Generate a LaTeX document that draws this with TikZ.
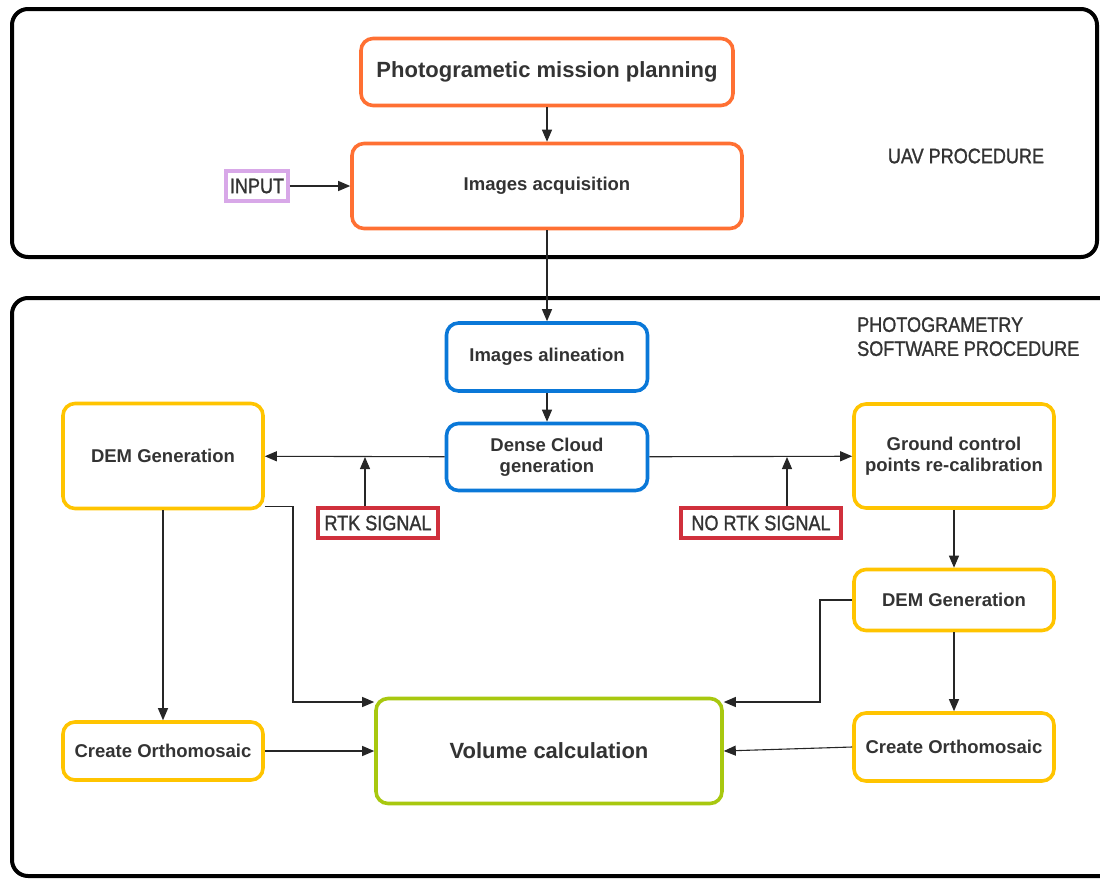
\documentclass[tikz,border=0pt]{standalone}
\usepackage{fontspec}
\setmainfont{Liberation Sans}
\newfontfamily\capsfont[FakeStretch=0.86,FakeBold=1.2]{Liberation Sans}
\usetikzlibrary{arrows.meta}
\definecolor{txt}{HTML}{333333}
\definecolor{orangeC}{HTML}{FF7033}
\definecolor{blueC}{HTML}{0A78D8}
\definecolor{yellowC}{HTML}{FFC400}
\definecolor{greenC}{HTML}{A8C80F}
\definecolor{redC}{HTML}{D0303C}
\definecolor{purpleC}{HTML}{D8A8E8}
\begin{document}
\begin{tikzpicture}[x=1pt,y=-1pt,
  box/.style={draw, rounded corners=12pt, line width=3.6pt, fill=white, align=center,
    text=txt, inner sep=2pt, font=\bfseries\fontsize{18.5}{21}\selectfont},
  bigtext/.style={font=\bfseries\fontsize{22}{25}\selectfont},
  orangebox/.style={box, draw=orangeC},
  bluebox/.style={box, draw=blueC},
  yellowbox/.style={box, draw=yellowC},
  greenbox/.style={box, draw=greenC},
  tagbox/.style={draw, line width=3.4pt, fill=white, text=txt, inner sep=1pt,
    font=\capsfont\fontsize{21}{24}\selectfont},
  capslabel/.style={text=txt, inner sep=0pt, align=left,
    font=\capsfont\fontsize{21}{24}\selectfont},
  container/.style={draw=black, line width=4pt, rounded corners=16pt},
  arr/.style={-{Triangle[length=12pt,width=10pt]}, line width=1.1pt, draw=black!85}
]
\useasboundingbox (0,0) rectangle (1100,878);
\clip (0,0) rectangle (1100,878);

% containers
\draw[container] (12,9) rectangle (1097,257);
\draw[container] (12,298) rectangle (1120,876);

% UAV part
\node[orangebox, bigtext, minimum width=372pt, minimum height=67pt] (plan) at (547,72) {Photogrametic mission planning};
\node[orangebox, minimum width=390pt, minimum height=85pt] (acq) at (547,186) {Images acquisition};
\node[tagbox, draw=purpleC, minimum width=62pt, minimum height=30pt] (input) at (257,186) {INPUT};
\node[capslabel] (uav) at (966,156) {UAV PROCEDURE};

% photogrammetry part
\node[capslabel, anchor=north west] (psp) at (857,317) {PHOTOGRAMETRY\\SOFTWARE PROCEDURE};
\node[bluebox, minimum width=201pt, minimum height=68pt] (align) at (547,357) {Images alineation};
\node[bluebox, minimum width=201pt, minimum height=67pt] (dense) at (547,457) {Dense Cloud\\generation};
\node[yellowbox, minimum width=200pt, minimum height=105pt] (demL) at (163,456) {DEM Generation};
\node[yellowbox, minimum width=200pt, minimum height=104pt] (gcp) at (954,456) {Ground control\\points re-calibration};
\node[tagbox, draw=redC, minimum width=120pt, minimum height=30pt] (rtk) at (378,523) {RTK SIGNAL};
\node[tagbox, draw=redC, minimum width=160pt, minimum height=30pt] (nortk) at (761,523) {NO RTK SIGNAL};
\node[yellowbox, minimum width=200pt, minimum height=61pt] (demR) at (954,600) {DEM Generation};
\node[yellowbox, minimum width=200pt, minimum height=68pt] (orthoR) at (954,747) {Create Orthomosaic};
\node[yellowbox, minimum width=200pt, minimum height=58pt] (orthoL) at (163,751) {Create Orthomosaic};
\node[greenbox, bigtext, minimum width=346pt, minimum height=105pt] (vol) at (549,751) {Volume calculation};

% connectors
\draw[arr] (plan) -- (acq);
\draw[arr] (input) -- (acq);
\draw[arr] (acq) -- (align);
\draw[arr] (align) -- (dense);
\draw[arr] (dense) -- (demL);
\draw[arr] (dense) -- (gcp);
\coordinate (r1) at ([xshift=-13pt]rtk.north);
\draw[arr] (r1) -- (r1 |- dense.west);
\coordinate (r2) at ([xshift=26pt]nortk.north);
\draw[arr] (r2) -- (r2 |- dense.east);
\draw[arr] (gcp) -- (demR);
\draw[arr] (demR) -- (orthoR);
\draw[arr] (demL) -- (orthoL);
\coordinate (j1) at (293,702);
\draw[arr] ([yshift=4pt]demL.south east) -| (j1) -- (j1 -| vol.west);
\coordinate (j2) at (820,702);
\draw[arr] (demR.west) -| (j2) -- (j2 -| vol.east);
\draw[arr] (orthoL.east) -- (orthoL.east -| vol.west);
\draw[arr] (orthoR.west) -- (vol.east);
\end{tikzpicture}
\end{document}
